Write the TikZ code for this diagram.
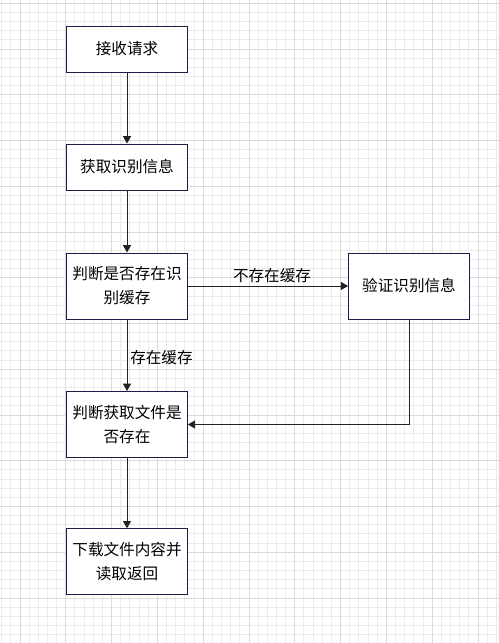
\documentclass[tikz,border=0pt]{standalone}
\usepackage{fontspec}
\newfontfamily\cjk{Noto Sans CJK SC}
\usetikzlibrary{arrows.meta}
\definecolor{boxline}{HTML}{1A1F4A}
\definecolor{arrowc}{HTML}{222222}
\definecolor{gridminor}{HTML}{EBEBEB}
\definecolor{gridmajor}{HTML}{DADADA}
\tikzset{
  stepbox/.style={draw=boxline, line width=0.75pt, fill=white, minimum width=90.5pt, align=center, inner sep=0pt, font=\cjk\fontsize{11.7}{18}\selectfont, text=black},
  flow/.style={draw=arrowc, line width=0.75pt, -{Triangle[length=5.5pt,width=6pt]}},
  lbl/.style={font=\cjk\fontsize{11.7}{18}\selectfont, text=black, inner sep=0pt}
}
\begin{document}
\begin{tikzpicture}[x=0.75pt,y=-0.75pt]
\useasboundingbox (0,0) rectangle (499,643);
\fill[white] (0,0) rectangle (499,643);
% grid
\foreach \i in {0,...,54} {
  \draw[gridminor, line width=0.75pt] ({1.68+9.16*\i},0) -- ({1.68+9.16*\i},643);
}
\foreach \i in {0,...,70} {
  \draw[gridminor, line width=0.75pt] (0,{3.25+9.15*\i}) -- (499,{3.25+9.15*\i});
}
\foreach \i in {0,...,10} {
  \draw[gridmajor, line width=0.75pt] ({20+45.8*\i},0) -- ({20+45.8*\i},643);
}
\foreach \i in {0,...,14} {
  \draw[gridmajor, line width=0.75pt] (0,{3.25+45.75*\i}) -- (499,{3.25+45.75*\i});
}
% nodes
\node[stepbox, minimum height=34.5pt] (recv) at (127,49) {接收请求};
\node[stepbox, minimum height=34.5pt] (getid) at (127,167) {获取识别信息};
\node[stepbox, minimum height=49.5pt] (cache) at (127,286) {判断是否存在识\\别缓存};
\node[stepbox, minimum height=49.5pt] (verify) at (409,286) {验证识别信息};
\node[stepbox, minimum height=49.5pt] (exists) at (127,424.5) {判断获取文件是\\否存在};
\node[stepbox, minimum height=49pt] (down) at (127,561.5) {下载文件内容并\\读取返回};
% connectors
\draw[flow] (recv) -- (getid);
\draw[flow] (getid) -- (cache);
\draw[flow] (cache) -- (verify);
\draw[flow] (cache) -- (exists);
\draw[flow] (verify.south) |- (exists.east);
\draw[flow] (exists) -- (down);
% labels
\node[lbl] (l1) at (272,276) {不存在缓存};
\node[lbl, anchor=west] (l2) at (130,358) {存在缓存};
\end{tikzpicture}
\end{document}
